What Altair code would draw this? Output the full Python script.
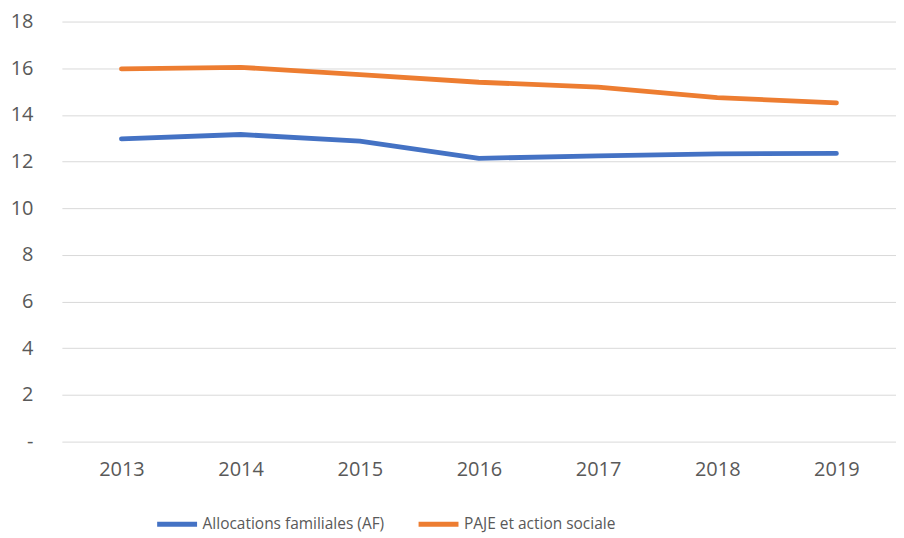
import altair as alt
import pandas as pd

years = ["2013", "2014", "2015", "2016", "2017", "2018", "2019"]
af = [12.97, 13.16, 12.88, 12.14, 12.24, 12.33, 12.35]
paje = [15.97, 16.04, 15.73, 15.40, 15.19, 14.74, 14.52]
series_names = ["Allocations familiales (AF)", "PAJE et action sociale"]
colors = ["#4472C4", "#ED7D31"]

rows = []
for i, y in enumerate(years):
    rows.append({"year": y, "value": af[i], "series": series_names[0]})
    rows.append({"year": y, "value": paje[i], "series": series_names[1]})
df = pd.DataFrame(rows)

FONT = "Open Sans"
GREY = "#595959"

chart = alt.Chart(df).mark_line(strokeWidth=4.8, strokeCap="round", strokeJoin="round").encode(
    x=alt.X("year:N", sort=years, title=None,
            scale=alt.Scale(paddingInner=0, paddingOuter=0.5),
            axis=alt.Axis(labelAngle=0, ticks=False, domain=False, grid=False,
                          labelFont=FONT, labelFontSize=20, labelColor=GREY,
                          labelPadding=18)),
    y=alt.Y("value:Q", title=None,
            scale=alt.Scale(domain=[0, 18], nice=False),
            axis=alt.Axis(values=list(range(0, 19, 2)), ticks=False, domain=False,
                          grid=True, gridColor="#D9D9D9", gridWidth=1,
                          labelExpr="datum.value == 0 ? '-' : datum.label",
                          labelFont=FONT, labelFontSize=20, labelColor=GREY,
                          labelPadding=29, minExtent=54, maxExtent=54)),
    color=alt.Color("series:N", sort=series_names,
                    scale=alt.Scale(domain=series_names, range=colors),
                    legend=alt.Legend(title=None, orient="none", direction="horizontal",
                                      legendX=93, legendY=481,
                                      symbolType="stroke", symbolSize=1600,
                                      symbolStrokeWidth=5,
                                      labelFont=FONT, labelFontSize=15.5, labelColor=GREY,
                                      labelLimit=400, labelOffset=3, columnPadding=23)),
).properties(
    width=836, height=421,
    padding={"left": 0, "top": 3, "right": 0, "bottom": 0},
).configure_view(stroke=None)

chart.save("out.html", embed_options={"renderer": "svg", "actions": False})
